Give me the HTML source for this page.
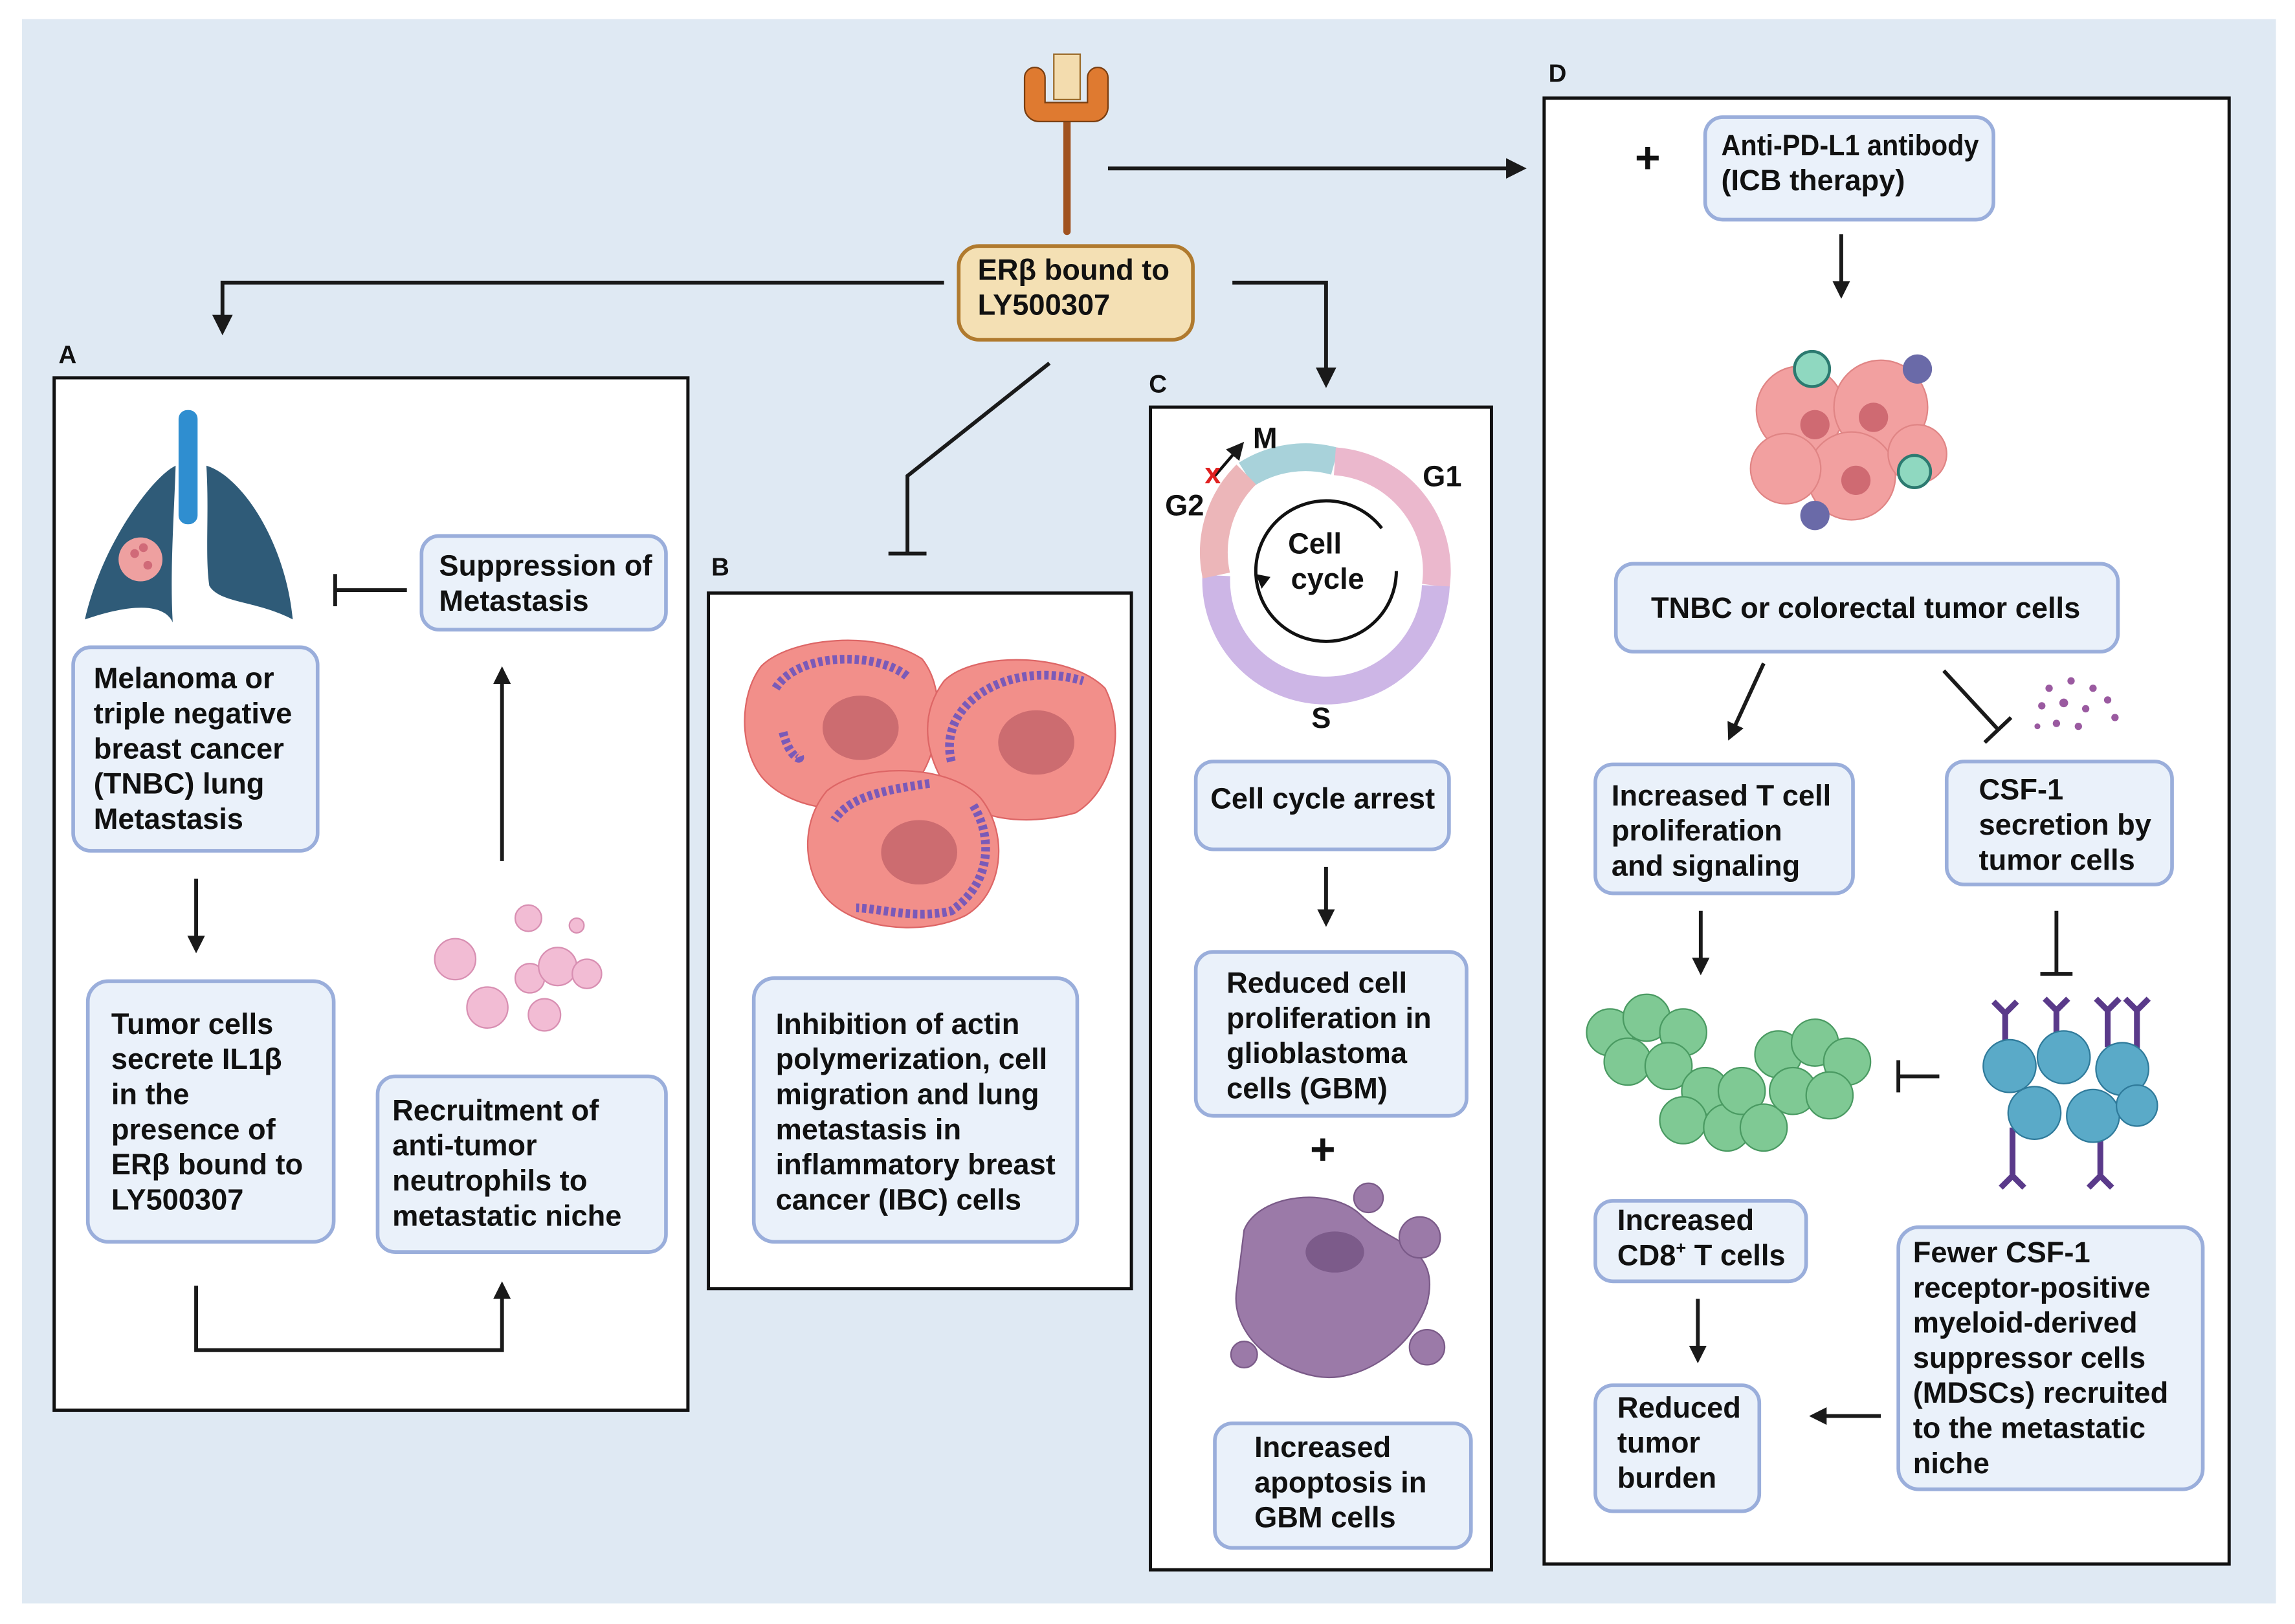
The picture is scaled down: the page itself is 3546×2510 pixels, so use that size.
<!DOCTYPE html>
<html><head><meta charset="utf-8"><style>
html,body{margin:0;padding:0;background:#fff;}
svg{display:block;}
text{font-family:"Liberation Sans",sans-serif;font-weight:bold;fill:#111;}
.bx{fill:#eaf1fa;stroke:#9aaedb;stroke-width:2.5;}
.pn{fill:#fff;stroke:#111;stroke-width:2.2;}
.ln{stroke:#1a1a1a;stroke-width:2.6;fill:none;}
.t{font-size:20px;}
.lb{font-size:17px;}
</style></head><body>
<svg width="3546" height="2510" viewBox="0 0 1568 1109" preserveAspectRatio="none" xmlns="http://www.w3.org/2000/svg">
<defs>
<marker id="ar" markerWidth="14" markerHeight="14" refX="9" refY="6" orient="auto" markerUnits="userSpaceOnUse"><path d="M0,0 L12,6 L0,12 z" fill="#1a1a1a"/></marker>
<marker id="arS" markerWidth="16" markerHeight="16" refX="11" refY="7" orient="auto" markerUnits="userSpaceOnUse"><path d="M0,0 L14,7 L0,14 z" fill="#1a1a1a"/></marker>
</defs>
<rect x="0" y="0" width="1568" height="1109" fill="#fff"/>
<rect x="15" y="13" width="1540" height="1082" fill="#dfe9f3"/>

<rect class="pn" x="37" y="258" width="433" height="705"/>
<rect class="pn" x="484" y="405" width="289" height="475"/>
<rect class="pn" x="786" y="278" width="233" height="794"/>
<rect class="pn" x="1055" y="67" width="468" height="1001"/>
<text class="lb" x="40" y="248">A</text>
<text class="lb" x="486" y="393">B</text>
<text class="lb" x="785" y="268">C</text>
<text class="lb" x="1058" y="56">D</text>

<!-- receptor -->
<line x1="729" y1="78" x2="729" y2="158" stroke="#a0521f" stroke-width="5" stroke-linecap="round"/>
<path d="M700,53 a7,7 0 0 1 14,0 v17 h29 v-17 a7,7 0 0 1 14,0 v20 a10,10 0 0 1 -10,10 h-37 a10,10 0 0 1 -10,-10z" fill="#df7a30" stroke="#7a3e10" stroke-width="1"/>
<rect x="720" y="37" width="18" height="31" fill="#f3dcae" stroke="#9a6a2a" stroke-width="1"/>
<rect x="655" y="168" width="160" height="64" rx="14" fill="#f4e0b4" stroke="#b07a2e" stroke-width="2.5"/>
<text class="t" x="668" y="191">ERβ bound to</text>
<text class="t" x="668" y="215">LY500307</text>

<path class="ln" d="M645,193 H152 V226" marker-end="url(#arS)"/>
<path class="ln" d="M842,193 H906 V262" marker-end="url(#arS)"/>
<path class="ln" d="M757,115 H1040" marker-end="url(#arS)"/>
<path class="ln" d="M717,248 L620,325 V378"/>
<line class="ln" x1="607" y1="378" x2="633" y2="378"/>

<!-- Panel A -->
<rect x="122" y="280" width="13" height="78" rx="6" fill="#2f8ed0"/>
<path d="M120,318 C105,325 70,370 58,423 C90,412 112,412 118,425 C116,390 119,350 120,318Z" fill="#2f5b78"/>
<path d="M141,318 C165,325 195,370 200,423 C175,410 150,412 143,400 C140,380 143,350 141,318Z" fill="#2f5b78"/>
<circle cx="96" cy="382" r="15" fill="#eea0a0"/>
<circle cx="92" cy="378" r="3" fill="#d06a78"/><circle cx="101" cy="386" r="3" fill="#d06a78"/><circle cx="98" cy="374" r="3" fill="#d06a78"/>
<rect class="bx" x="288" y="366" width="167" height="64" rx="12"/>
<text class="t" x="300" y="393">Suppression of</text>
<text class="t" x="300" y="417">Metastasis</text>
<line class="ln" x1="278" y1="403" x2="229" y2="403"/><line class="ln" x1="229" y1="392" x2="229" y2="414"/>
<rect class="bx" x="50" y="442" width="167" height="139" rx="12"/>
<text class="t" x="64" y="470">Melanoma or</text>
<text class="t" x="64" y="494">triple negative</text>
<text class="t" x="64" y="518">breast cancer</text>
<text class="t" x="64" y="542">(TNBC) lung</text>
<text class="t" x="64" y="566">Metastasis</text>
<path class="ln" d="M134,600 V648" marker-end="url(#ar)"/>
<rect class="bx" x="60" y="670" width="168" height="178" rx="14"/>
<text class="t" x="76" y="706">Tumor cells</text>
<text class="t" x="76" y="730">secrete IL1β</text>
<text class="t" x="76" y="754">in the</text>
<text class="t" x="76" y="778">presence of</text>
<text class="t" x="76" y="802">ERβ bound to</text>
<text class="t" x="76" y="826">LY500307</text>
<path class="ln" d="M134,878 V922 H343 V878" marker-end="url(#ar)"/>
<rect class="bx" x="258" y="735" width="197" height="120" rx="12"/>
<text class="t" x="268" y="765">Recruitment of</text>
<text class="t" x="268" y="789">anti-tumor</text>
<text class="t" x="268" y="813">neutrophils to</text>
<text class="t" x="268" y="837">metastatic niche</text>
<path class="ln" d="M343,588 V458" marker-end="url(#ar)"/>
<g fill="#f2bcd4" stroke="#d88fb2" stroke-width="1">
<circle cx="311" cy="655" r="14"/><circle cx="361" cy="627" r="9"/><circle cx="394" cy="632" r="5"/>
<circle cx="362" cy="668" r="10"/><circle cx="381" cy="660" r="13"/><circle cx="401" cy="665" r="10"/>
<circle cx="333" cy="688" r="14"/><circle cx="372" cy="693" r="11"/></g>

<!-- Panel B -->
<g fill="#f28f8a" stroke="#d66" stroke-width="1">
<path d="M520,455 C540,435 600,430 630,450 C650,475 640,525 620,540 C590,560 540,555 520,530 C505,510 505,475 520,455Z"/>
<path d="M645,465 C665,445 730,445 755,470 C770,500 760,540 735,555 C700,565 660,560 645,535 C630,510 630,485 645,465Z"/>
<path d="M565,540 C590,520 650,522 670,545 C690,570 685,610 660,625 C630,640 580,635 562,610 C548,590 548,560 565,540Z"/></g>
<g fill="#cc6c70"><ellipse cx="588" cy="497" rx="26" ry="22"/><ellipse cx="708" cy="507" rx="26" ry="22"/><ellipse cx="628" cy="582" rx="26" ry="22"/></g>
<g fill="none" stroke="#7a5ab8" stroke-width="6" stroke-dasharray="3,2">
<path d="M530,470 C545,445 600,445 620,462"/><path d="M535,500 C540,520 550,520 545,515"/>
<path d="M650,520 C640,480 690,450 740,465"/><path d="M635,535 C600,540 580,545 570,560"/>
<path d="M665,550 C680,575 675,605 650,622 C625,628 600,620 585,620"/></g>
<rect class="bx" x="515" y="668" width="221" height="180" rx="14"/>
<text class="t" x="530" y="706">Inhibition of actin</text>
<text class="t" x="530" y="730">polymerization, cell</text>
<text class="t" x="530" y="754">migration and lung</text>
<text class="t" x="530" y="778">metastasis in</text>
<text class="t" x="530" y="802">inflammatory breast</text>
<text class="t" x="530" y="826">cancer (IBC) cells</text>

<!-- Panel C -->
<g fill="none" stroke-width="19">
<path d="M851.5,324 A75,75 0 0 1 912,315" stroke="#a8d2da"/>
<path d="M912,315 A75,75 0 0 1 981,400" stroke="#ebb8cd"/>
<path d="M981,400 A75,75 0 0 1 831,393" stroke="#cdb6e6"/>
<path d="M831,393 A75,75 0 0 1 851.5,324" stroke="#ecb6b9"/>
</g>
<circle cx="906" cy="390" r="48" fill="none" stroke="#111" stroke-width="2.2" stroke-dasharray="270,32"/>
<path d="M862,402 l-4,-10 l10,2z" fill="#111"/>
<text class="t" x="880" y="378">Cell</text>
<text class="t" x="882" y="402">cycle</text>
<text class="t" x="856" y="306">M</text>
<text class="t" x="972" y="332">G1</text>
<text class="t" x="796" y="352">G2</text>
<text class="t" x="896" y="497">S</text>
<path d="M830,325 L848,304" stroke="#111" stroke-width="2" marker-end="url(#ar)"/>
<text x="823" y="330" style="font-size:20px;fill:#e02020">x</text>
<rect class="bx" x="817" y="520" width="173" height="60" rx="12"/>
<text class="t" x="827" y="552">Cell cycle arrest</text>
<path class="ln" d="M906,592 V630" marker-end="url(#ar)"/>
<rect class="bx" x="817" y="650" width="185" height="112" rx="12"/>
<text class="t" x="838" y="678">Reduced cell</text>
<text class="t" x="838" y="702">proliferation in</text>
<text class="t" x="838" y="726">glioblastoma</text>
<text class="t" x="838" y="750">cells (GBM)</text>
<text x="895" y="795" style="font-size:30px">+</text>
<g fill="#9b7aa8" stroke="#7a5a88" stroke-width="1">
<path d="M850,840 C860,815 910,810 930,830 C950,850 985,850 975,890 C965,920 930,945 900,940 C870,935 840,910 845,880 Z"/>
<circle cx="935" cy="818" r="10"/><circle cx="970" cy="845" r="14"/><circle cx="850" cy="925" r="9"/><circle cx="975" cy="920" r="12"/></g>
<ellipse cx="912" cy="855" rx="20" ry="14" fill="#7c5b8a"/>
<rect class="bx" x="830" y="972" width="175" height="85" rx="12"/>
<text class="t" x="857" y="995">Increased</text>
<text class="t" x="857" y="1019">apoptosis in</text>
<text class="t" x="857" y="1043">GBM cells</text>

<!-- Panel D -->
<text x="1117" y="118" style="font-size:30px">+</text>
<rect class="bx" x="1165" y="80" width="197" height="70" rx="12"/>
<text class="t" x="1176" y="106" textLength="176" lengthAdjust="spacingAndGlyphs">Anti-PD-L1 antibody</text>
<text class="t" x="1176" y="130">(ICB therapy)</text>
<path class="ln" d="M1258,160 V201" marker-end="url(#ar)"/>
<g fill="#f2a0a0" stroke="#e08585" stroke-width="1">
<circle cx="1230" cy="280" r="30"/><circle cx="1285" cy="278" r="32"/><circle cx="1265" cy="325" r="30"/><circle cx="1220" cy="320" r="24"/><circle cx="1310" cy="310" r="20"/></g>
<g fill="#cf6a72"><circle cx="1240" cy="290" r="10"/><circle cx="1280" cy="285" r="10"/><circle cx="1268" cy="328" r="10"/></g>
<circle cx="1238" cy="252" r="12" fill="#8fd8c0" stroke="#2c7a70" stroke-width="2"/>
<circle cx="1308" cy="322" r="11" fill="#8fd8c0" stroke="#2c7a70" stroke-width="2"/>
<circle cx="1310" cy="252" r="10" fill="#6a6aa8"/><circle cx="1240" cy="352" r="10" fill="#6a6aa8"/>
<rect class="bx" x="1104" y="385" width="343" height="60" rx="12"/>
<text class="t" x="1128" y="422">TNBC or colorectal tumor cells</text>
<path class="ln" d="M1205,453 L1182,503" marker-end="url(#ar)"/>
<path class="ln" d="M1328,458 L1365,498"/><line class="ln" x1="1356" y1="507" x2="1374" y2="490"/>
<g fill="#9a5aa0"><circle cx="1400" cy="470" r="2.5"/><circle cx="1415" cy="465" r="2.5"/><circle cx="1430" cy="470" r="2.5"/><circle cx="1395" cy="482" r="2.5"/><circle cx="1410" cy="480" r="3"/><circle cx="1425" cy="484" r="2.5"/><circle cx="1440" cy="478" r="2.5"/><circle cx="1405" cy="494" r="2.5"/><circle cx="1420" cy="496" r="2.5"/><circle cx="1445" cy="490" r="2.5"/><circle cx="1392" cy="496" r="2"/></g>
<rect class="bx" x="1090" y="522" width="176" height="88" rx="12"/>
<text class="t" x="1101" y="550">Increased T cell</text>
<text class="t" x="1101" y="574">proliferation</text>
<text class="t" x="1101" y="598">and signaling</text>
<rect class="bx" x="1330" y="520" width="154" height="84" rx="12"/>
<text class="t" x="1352" y="546">CSF-1</text>
<text class="t" x="1352" y="570">secretion by</text>
<text class="t" x="1352" y="594">tumor cells</text>
<path class="ln" d="M1162,622 V663" marker-end="url(#ar)"/>
<line class="ln" x1="1405" y1="622" x2="1405" y2="665"/><line class="ln" x1="1394" y1="665" x2="1416" y2="665"/>
<g fill="#7fc994" stroke="#4a9a62" stroke-width="1">
<circle cx="1100" cy="705" r="16"/><circle cx="1125" cy="695" r="16"/><circle cx="1150" cy="705" r="16"/><circle cx="1112" cy="725" r="16"/><circle cx="1140" cy="728" r="16"/><circle cx="1165" cy="745" r="16"/><circle cx="1150" cy="765" r="16"/><circle cx="1180" cy="770" r="16"/><circle cx="1190" cy="745" r="16"/>
<circle cx="1215" cy="720" r="16"/><circle cx="1240" cy="712" r="16"/><circle cx="1262" cy="725" r="16"/><circle cx="1225" cy="745" r="16"/><circle cx="1250" cy="748" r="16"/><circle cx="1205" cy="770" r="16"/></g>
<line class="ln" x1="1325" y1="735" x2="1297" y2="735"/><line class="ln" x1="1297" y1="724" x2="1297" y2="746"/>
<g stroke="#5a3a8a" stroke-width="4" fill="none">
<path d="M1370,720 V690 M1362,684 L1370,692 L1378,684"/><path d="M1405,715 V688 M1397,682 L1405,690 L1413,682"/><path d="M1440,715 V688 M1432,682 L1440,690 L1448,682"/><path d="M1460,720 V688 M1452,682 L1460,690 L1468,682"/>
<path d="M1375,770 V805 M1367,811 L1375,803 L1383,811"/><path d="M1435,775 V805 M1427,811 L1435,803 L1443,811"/></g>
<g fill="#5aaac8" stroke="#2f7a9a" stroke-width="1">
<circle cx="1373" cy="728" r="18"/><circle cx="1410" cy="722" r="18"/><circle cx="1450" cy="730" r="18"/><circle cx="1390" cy="760" r="18"/><circle cx="1430" cy="762" r="18"/><circle cx="1460" cy="755" r="14"/></g>
<rect class="bx" x="1090" y="820" width="144" height="55" rx="12"/>
<text class="t" x="1105" y="840">Increased</text>
<text class="t" x="1105" y="864">CD8<tspan style="font-size:12px" dy="-8">+</tspan><tspan dy="8"> T cells</tspan></text>
<path class="ln" d="M1160,887 V928" marker-end="url(#ar)"/>
<rect class="bx" x="1090" y="946" width="112" height="86" rx="12"/>
<text class="t" x="1105" y="968">Reduced</text>
<text class="t" x="1105" y="992">tumor</text>
<text class="t" x="1105" y="1016">burden</text>
<path class="ln" d="M1285,967 H1239" marker-end="url(#ar)"/>
<rect class="bx" x="1297" y="838" width="208" height="179" rx="14"/>
<text class="t" x="1307" y="862">Fewer CSF-1</text>
<text class="t" x="1307" y="886">receptor-positive</text>
<text class="t" x="1307" y="910">myeloid-derived</text>
<text class="t" x="1307" y="934">suppressor cells</text>
<text class="t" x="1307" y="958">(MDSCs) recruited</text>
<text class="t" x="1307" y="982">to the metastatic</text>
<text class="t" x="1307" y="1006">niche</text>
</svg>
</body></html>
